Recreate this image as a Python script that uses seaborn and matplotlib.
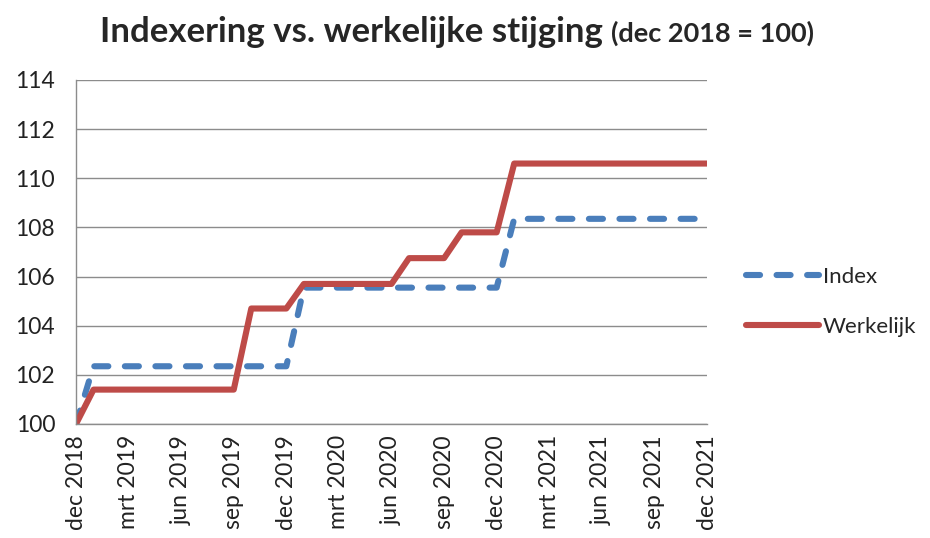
import numpy as np
import pandas as pd
import matplotlib
matplotlib.use("Agg")
import matplotlib.pyplot as plt
import seaborn as sns

# maanden dec 2018 t/m dec 2021
maanden = ["dec", "jan", "feb", "mrt", "apr", "mei", "jun", "jul", "aug", "sep", "okt", "nov"]
labels = []
for i in range(37):
    m = maanden[i % 12]
    jaar = 2018 + (i + 11) // 12
    labels.append(f"{m} {jaar}")

# waarden per maand (dec 2018 = 100)
index_vals = [100.0] + [102.35] * 12 + [105.55] * 12 + [108.35] * 12
werkelijk_vals = ([100.0] + [101.4] * 9 + [104.7] * 3 + [105.7] * 6
                  + [106.75] * 3 + [107.8] * 3 + [110.6] * 12)

df = pd.DataFrame({
    "maand": np.arange(37),
    "Index": index_vals,
    "Werkelijk": werkelijk_vals,
})

sns.set_style("white")
plt.rcParams['font.family'] = ['Lato', 'DejaVu Sans']

fig = plt.figure(figsize=(9.3, 5.38), dpi=100)
ax = fig.add_axes([76 / 930, 1 - 424 / 538, (707 - 76) / 930, (424 - 80) / 538])

blauw = "#4a7ebb"
rood = "#be4b48"

sns.lineplot(data=df, x="maand", y="Index", ax=ax, color=blauw, linewidth=4.4,
             label="Index", dashes=False)
lijn = ax.lines[-1]
lijn.set_dashes((2.3, 2.7))
lijn.set_dash_capstyle("round")
lijn.set_dash_joinstyle("round")
sns.lineplot(data=df, x="maand", y="Werkelijk", ax=ax, color=rood, linewidth=4.4,
             label="Werkelijk")
ax.lines[-1].set_solid_capstyle("round")
ax.lines[-1].set_solid_joinstyle("round")

ax.set_xlim(0, 36)
ax.set_ylim(100, 114)
ax.set_yticks(np.arange(100, 115, 2))
ax.set_xticks(np.arange(0, 37, 3))
ax.set_xticklabels([labels[i] for i in range(0, 37, 3)], rotation=90)
ax.set_xlabel("")
ax.set_ylabel("")
ax.tick_params(axis="both", labelsize=16.5, colors="#222222", length=6,
               width=1, direction="out", color="#8c8c8c")
ax.tick_params(axis="x", pad=2)
ax.tick_params(axis="y", pad=9)
ax.yaxis.grid(True, color="#8c8c8c", linewidth=1)
for s in ["top", "right"]:
    ax.spines[s].set_visible(False)
for s in ["left", "bottom"]:
    ax.spines[s].set_color("#8c8c8c")
    ax.spines[s].set_linewidth(1)

leg = ax.legend(loc="center left", bbox_to_anchor=(1.03, 0.355), frameon=False,
                fontsize=16, handlelength=3.3, handletextpad=0.15, labelspacing=1.35)

titel = fig.text(100 / 930, 1 - 42 / 538, "Indexering vs. werkelijke stijging",
                 fontsize=25, fontweight="bold", ha="left", va="baseline")
fig.canvas.draw()
bb = titel.get_window_extent()
fig.text(bb.x1 / 930 + 8 / 930, 1 - 42 / 538, "(dec 2018 = 100)",
         fontsize=19.5, fontweight="bold", ha="left", va="baseline")

fig.savefig("out.png", dpi=100)
